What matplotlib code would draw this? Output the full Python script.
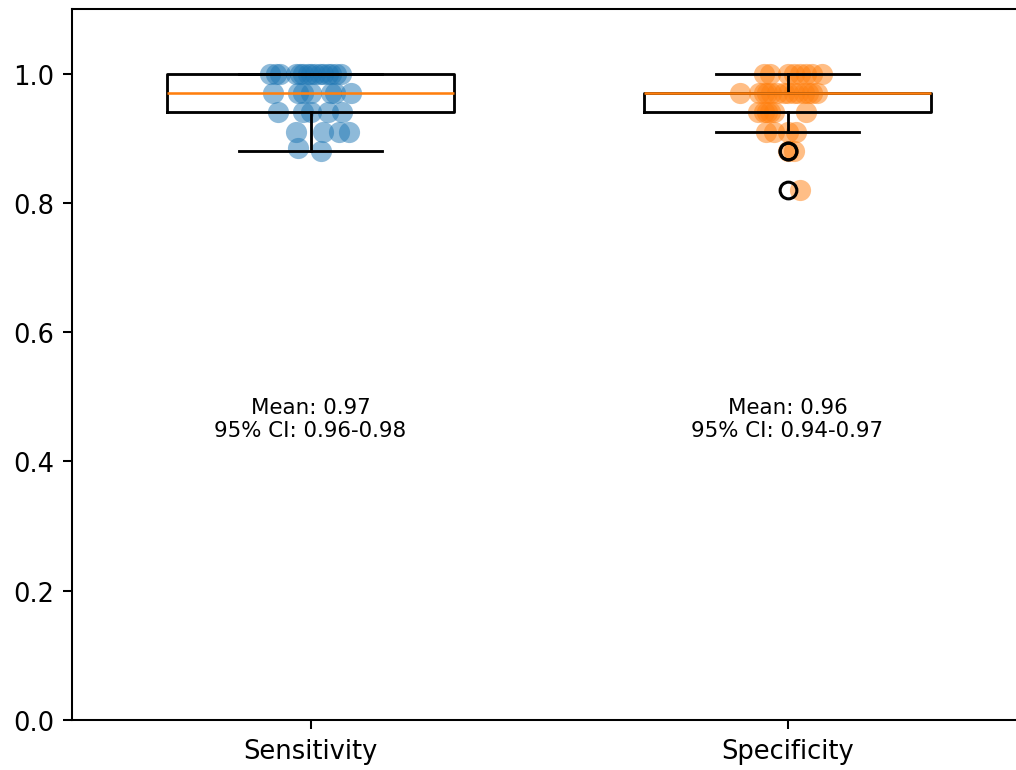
import numpy as np
import matplotlib.pyplot as plt

labels = ["Sensitivity", "Specificity"]

# values per row
sens_values = [1.0] * 15 + [0.97] * 7 + [0.94] * 5 + [0.91] * 4 + [0.885, 0.88]
sens_jitter = [-0.084, -0.073, -0.063, -0.031, -0.023, -0.015, -0.006, 0.002,
               0.010, 0.019, 0.027, 0.036, 0.044, 0.054, 0.063,
               -0.078, -0.027, -0.015, 0.0, 0.042, 0.052, 0.084,
               -0.069, -0.015, 0.0, 0.036, 0.067,
               -0.031, 0.027, 0.059, 0.080,
               -0.027, 0.021]

spec_values = [1.0] * 8 + [0.97] * 14 + [0.94] * 6 + [0.91] * 4 + [0.88, 0.88, 0.82]
spec_jitter = [-0.050, -0.036, 0.0, 0.013, 0.027, 0.038, 0.052, 0.073,
               -0.099, -0.059, -0.050, -0.042, -0.034, -0.023, -0.008, 0.002,
               0.013, 0.023, 0.034, 0.044, 0.052, 0.061,
               -0.061, -0.050, -0.042, -0.036, -0.029, 0.038,
               -0.046, -0.029, 0.002, 0.017,
               0.0, 0.013, 0.027]

means = [0.97, 0.96]
ci_low = [0.96, 0.94]
ci_high = [0.98, 0.97]

dpi = 185
fig = plt.figure(figsize=(1016 / dpi, 771 / dpi), dpi=dpi)
ax = fig.add_axes([72 / 1016, 50 / 771, 954 / 1016, 711 / 771])

data = [sens_values, spec_values]
ax.boxplot(data, positions=[1, 2], widths=0.6,
           boxprops=dict(linewidth=1.1), whiskerprops=dict(linewidth=1.1),
           capprops=dict(linewidth=1.1),
           flierprops=dict(markersize=6.5, markeredgewidth=1.2))

for i, (vals, jit) in enumerate(zip(data, [sens_jitter, spec_jitter])):
    x = (i + 1) + np.array(jit)
    ax.scatter(x, vals, s=68, alpha=0.5, color="C%d" % i, linewidths=0)

for i in range(2):
    txt = "Mean: %.2f\n95%% CI: %.2f-%.2f" % (means[i], ci_low[i], ci_high[i])
    ax.text(i + 1, 0.5, txt, ha="center", va="top", fontsize="small")

ax.set_xticks([1, 2])
ax.set_xticklabels(labels)
ax.set_xlim(0.5, 2.5)
ax.set_ylim(0, 1.1)

fig.savefig("out.png", dpi=dpi)
